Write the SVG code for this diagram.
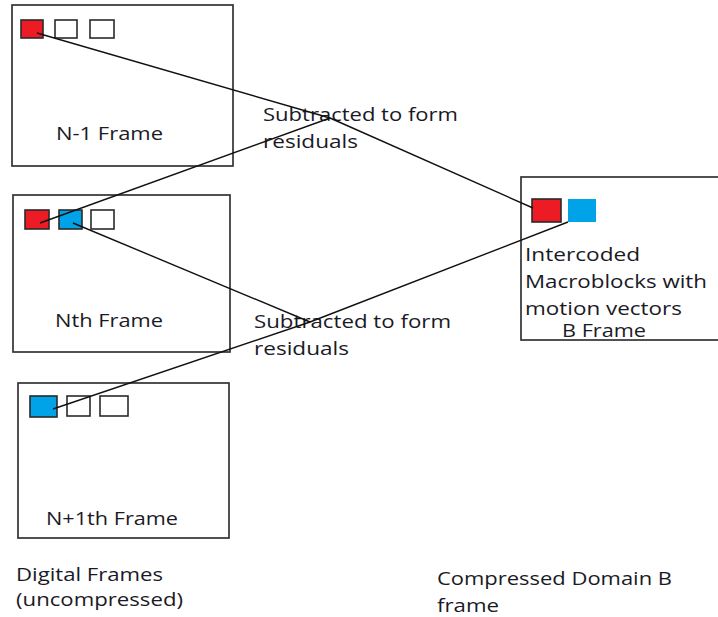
<svg xmlns="http://www.w3.org/2000/svg" width="718" height="617" viewBox="0 0 718 617">
  <style>
    .frame { fill: #ffffff; stroke: #333333; stroke-width: 1.7; }
    .mb { stroke: #2a2a2a; stroke-width: 1.6; }
    .red { fill: #ed1c24; }
    .blue { fill: #00a2e8; }
    .empty { fill: #ffffff; }
    .wire { fill: none; stroke: #111111; stroke-width: 1.4; stroke-linejoin: round; }
    text { font-family: "Open Sans", "Liberation Sans", sans-serif; font-size: 18px; fill: #1a1a26; }
  </style>
  <rect width="718" height="617" fill="#ffffff"/>

  <!-- previous frame -->
  <g id="frame-prev">
    <rect class="frame" x="12" y="5" width="221" height="161"/>
    <rect class="mb red" x="21" y="20" width="22" height="18"/>
    <rect class="mb empty" x="55" y="20" width="22" height="18"/>
    <rect class="mb empty" x="90" y="20" width="24" height="18"/>
    <text x="56" y="140" textLength="107" lengthAdjust="spacingAndGlyphs">N-1 Frame</text>
  </g>

  <!-- current frame -->
  <g id="frame-current">
    <rect class="frame" x="13" y="195" width="217" height="157"/>
    <rect class="mb red" x="25" y="210" width="24" height="19"/>
    <rect class="mb blue" x="59" y="210" width="23" height="19"/>
    <rect class="mb empty" x="91" y="210" width="23" height="19"/>
    <text x="55" y="327" textLength="108" lengthAdjust="spacingAndGlyphs">Nth Frame</text>
  </g>

  <!-- next frame -->
  <g id="frame-next">
    <rect class="frame" x="18" y="383" width="211" height="155"/>
    <rect class="mb blue" x="30" y="396" width="27" height="21"/>
    <rect class="mb empty" x="67" y="396" width="23" height="20"/>
    <rect class="mb empty" x="100" y="396" width="28" height="20"/>
    <text x="46" y="525" textLength="132" lengthAdjust="spacingAndGlyphs">N+1th Frame</text>
  </g>

  <!-- compressed B frame -->
  <g id="frame-b">
    <rect class="frame" x="521" y="177" width="205" height="163"/>
    <rect class="mb red" x="532" y="199" width="29" height="23"/>
    <rect class="blue" x="568" y="199" width="28" height="23"/>
    <text x="525" y="261" textLength="115" lengthAdjust="spacingAndGlyphs">Intercoded</text>
    <text x="525" y="288" textLength="182" lengthAdjust="spacingAndGlyphs">Macroblocks with</text>
    <text x="525" y="315" textLength="157" lengthAdjust="spacingAndGlyphs">motion vectors</text>
    <text x="562" y="337" textLength="84" lengthAdjust="spacingAndGlyphs">B Frame</text>
  </g>

  <!-- residual labels -->
  <g id="label-residual-top">
    <text x="263" y="121" textLength="195" lengthAdjust="spacingAndGlyphs">Subtracted to form</text>
    <text x="263" y="148" textLength="95" lengthAdjust="spacingAndGlyphs">residuals</text>
  </g>
  <g id="label-residual-bottom">
    <text x="254" y="328" textLength="197" lengthAdjust="spacingAndGlyphs">Subtracted to form</text>
    <text x="254" y="355" textLength="95" lengthAdjust="spacingAndGlyphs">residuals</text>
  </g>

  <!-- captions -->
  <g id="caption-digital">
    <text x="16" y="581" textLength="147" lengthAdjust="spacingAndGlyphs">Digital Frames</text>
    <text x="16" y="606" textLength="167" lengthAdjust="spacingAndGlyphs">(uncompressed)</text>
  </g>
  <g id="caption-compressed">
    <text x="437" y="585" textLength="235" lengthAdjust="spacingAndGlyphs">Compressed Domain B</text>
    <text x="437" y="612" textLength="62" lengthAdjust="spacingAndGlyphs">frame</text>
  </g>

  <!-- motion connectors -->
  <g id="connectors">
    <polyline class="wire" points="37,33 330,118 533,208"/>
    <polyline class="wire" points="40,223 330,118"/>
    <polyline class="wire" points="73,223 310,322"/>
    <polyline class="wire" points="53,409 310,322 568,222"/>
  </g>
</svg>
